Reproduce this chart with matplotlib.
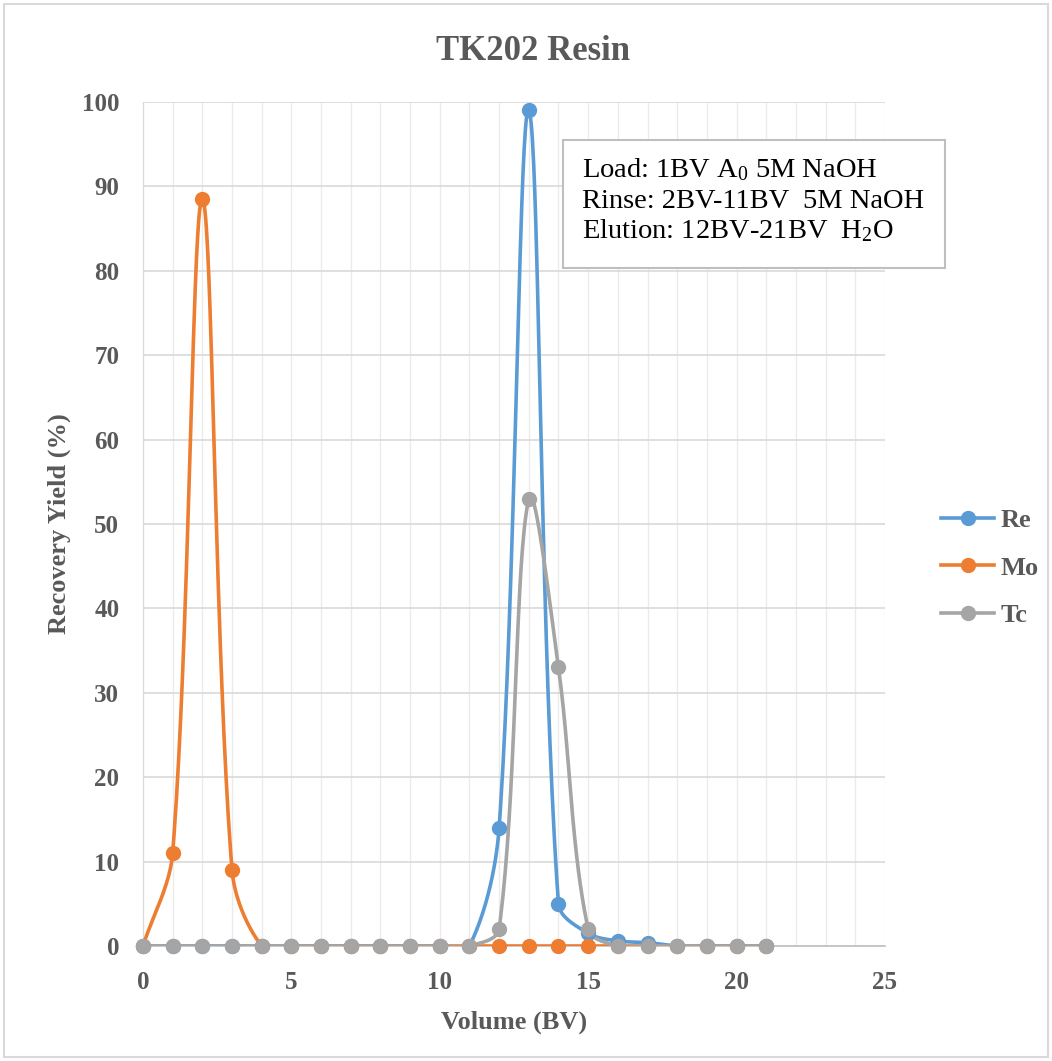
import numpy as np
import matplotlib
matplotlib.use("Agg")
import matplotlib.pyplot as plt
from matplotlib.lines import Line2D
from matplotlib.patches import Rectangle

plt.rcParams["mathtext.fontset"] = "custom"
plt.rcParams["mathtext.rm"] = "Liberation Serif"
plt.rcParams["mathtext.it"] = "Liberation Serif:italic"
plt.rcParams["mathtext.bf"] = "Liberation Serif:bold"

volume = list(range(0, 22))
re_vals = [0, 0, 0, 0, 0, 0, 0, 0, 0, 0, 0, 0, 14, 99, 5, 1.5, 0.6, 0.4, 0, 0, 0, 0]
mo_vals = [0, 11, 88.5, 9, 0, 0, 0, 0, 0, 0, 0, 0, 0, 0, 0, 0, 0, 0, 0, 0, 0, 0]
tc_vals = [0, 0, 0, 0, 0, 0, 0, 0, 0, 0, 0, 0, 2, 53, 33, 2, 0, 0, 0, 0, 0, 0]
series_names = ["Re", "Mo", "Tc"]
colors = ["#5B9BD5", "#ED7D31", "#A5A5A5"]
box_lines = ["Load: 1BV A$_\\mathrm{0}$ 5M NaOH",
             "Rinse: 2BV-11BV  5M NaOH",
             "Elution: 12BV-21BV  H$_\\mathrm{2}$O"]

TXT = "#595959"
SERIF = ["Liberation Serif", "DejaVu Serif"]


def smooth(ax, x, y, n=40):
    """Excel-like smoothed line: Bezier segments with length-weighted tangents (pixel space)."""
    P = ax.transData.transform(np.column_stack([np.asarray(x, float), np.asarray(y, float)]))
    m = len(P)
    cplus = np.zeros_like(P)
    cminus = np.zeros_like(P)
    for i in range(m):
        prv = P[i - 1] if i > 0 else P[i]
        nxt = P[i + 1] if i < m - 1 else P[i]
        t = nxt - prv
        dp = np.linalg.norm(P[i] - prv)
        dn = np.linalg.norm(nxt - P[i])
        tot = dp + dn
        if tot == 0:
            cplus[i] = P[i]
            cminus[i] = P[i]
            continue
        cplus[i] = P[i] + t * (dn / tot) / 3.0
        cminus[i] = P[i] - t * (dp / tot) / 3.0
    tt = np.linspace(0, 1, n)[:, None]
    out = []
    for i in range(m - 1):
        p0, c1, c2, p3 = P[i], cplus[i], cminus[i + 1], P[i + 1]
        seg = ((1 - tt) ** 3) * p0 + 3 * ((1 - tt) ** 2) * tt * c1 + 3 * (1 - tt) * tt ** 2 * c2 + tt ** 3 * p3
        out.append(seg if i == 0 else seg[1:])
    S = ax.transData.inverted().transform(np.vstack(out))
    return S[:, 0], S[:, 1]


fig = plt.figure(figsize=(10.52, 10.61), dpi=100)
fig.patches.append(Rectangle((0.004, 0.004), 0.992, 0.992, transform=fig.transFigure,
                             fill=False, edgecolor="#D9D9D9", linewidth=1.5))
ax = fig.add_axes([0.1359, 0.1084, 0.7053, 0.7955])

ax.set_xlim(0, 25)
ax.set_ylim(0, 100)
ax.set_xticks(range(0, 26, 5))
ax.set_xticks(range(0, 26, 1), minor=True)
ax.set_yticks(range(0, 101, 10))
ax.grid(True, which="major", axis="y", color="#D9D9D9", linewidth=1.2)
ax.grid(True, which="both", axis="x", color="#EBEBEB", linewidth=1.0)
ax.set_axisbelow(True)
for s in ["top", "right"]:
    ax.spines[s].set_visible(False)
ax.spines["left"].set_color("#D9D9D9")
ax.spines["bottom"].set_color("#BFBFBF")
ax.spines["bottom"].set_linewidth(1.2)
ax.tick_params(which="both", length=0)
ax.tick_params(axis="x", pad=18)
ax.tick_params(axis="y", pad=17)
for lab in ax.get_xticklabels() + ax.get_yticklabels():
    lab.set_fontfamily(SERIF)
    lab.set_fontsize(18)
    lab.set_fontweight("bold")
    lab.set_color(TXT)

handles = []
for name, vals, c in zip(series_names, [re_vals, mo_vals, tc_vals], colors):
    sx, sy = smooth(ax, volume, vals)
    ax.plot(sx, sy, color=c, linewidth=2.6, solid_capstyle="round", zorder=3)
    ax.plot(volume, vals, linestyle="none", marker="o", markersize=10, color=c,
            clip_on=False, zorder=4)
    handles.append(Line2D([], [], color=c, linewidth=2.6, marker="o", markersize=10))

ax.set_xlabel("Volume (BV)", fontfamily=SERIF, fontsize=19, fontweight="bold", color=TXT, labelpad=12)
ax.set_ylabel("Recovery Yield (%)", fontfamily=SERIF, fontsize=19, fontweight="bold", color=TXT, labelpad=8)
fig.text(0.5065, 0.951, "TK202 Resin", ha="center", va="center", fontfamily=SERIF,
         fontsize=25, fontweight="bold", color=TXT)

leg = fig.legend(handles, series_names, loc="center left", bbox_to_anchor=(0.8947, 0.4647),
                 frameon=False, borderpad=0, borderaxespad=0, handlelength=2.0,
                 handletextpad=0.25, labelspacing=0.9,
                 prop={"family": SERIF, "size": 19, "weight": "bold"})
for t in leg.get_texts():
    t.set_color(TXT)

# annotation box
fig.patches.append(Rectangle((563 / 1052, 1 - 268 / 1061), 382 / 1052, 128 / 1061,
                             transform=fig.transFigure, facecolor="white",
                             edgecolor="#BFBFBF", linewidth=1.5, zorder=5))
for i, line in enumerate(box_lines):
    base_px = 177 + i * 30.5
    fig.text(582 / 1052, 1 - base_px / 1061, line, ha="left", va="baseline",
             fontfamily=SERIF, fontsize=20.5, color="black", zorder=6)

fig.savefig("out.png", dpi=100)
